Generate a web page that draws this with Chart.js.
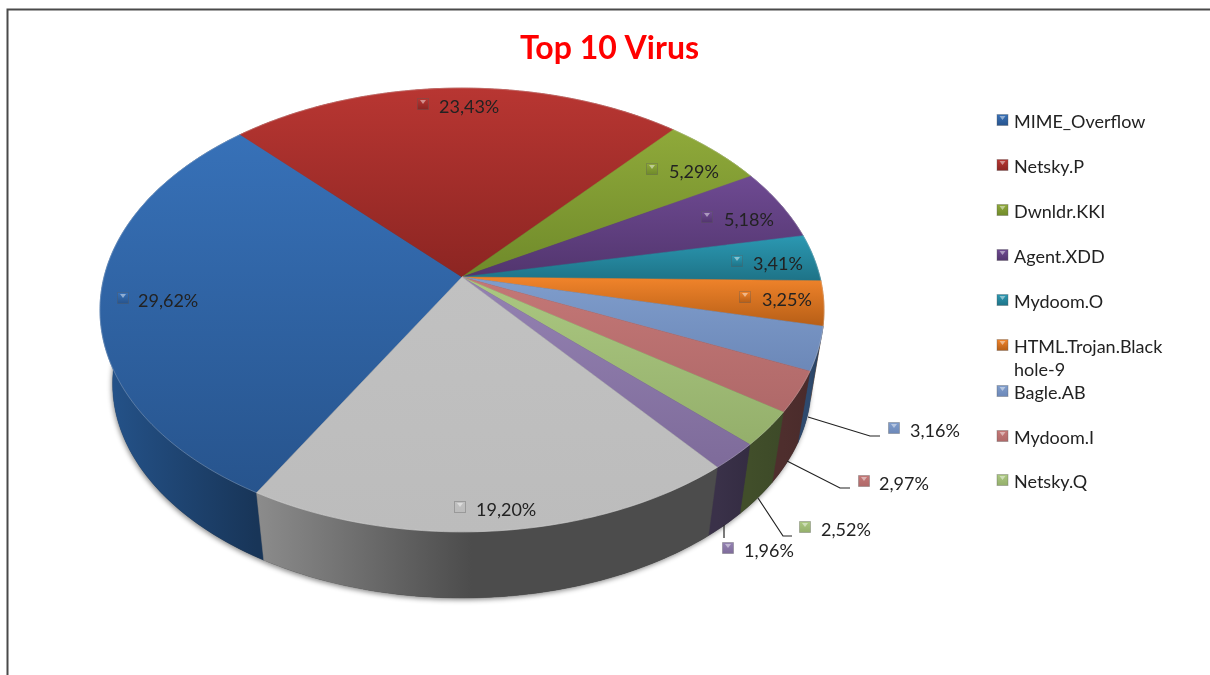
<!DOCTYPE html>
<html>
<head>
<meta charset="utf-8">
<title>Top 10 Virus</title>
<script src="https://cdn.jsdelivr.net/npm/chart.js@4"></script>
<style>
    html, body { margin: 0; padding: 0; background: #fff; overflow: hidden; }
    canvas { display: block; }
</style>
</head>
<body>
<canvas id="virusChart" width="1210" height="675"></canvas>
<script>
const categories = ['MIME_Overflow', 'Netsky.P', 'Dwnldr.KKI', 'Agent.XDD', 'Mydoom.O', 'HTML.Trojan.Blackhole-9', 'Bagle.AB', 'Mydoom.I', 'Netsky.Q', '(cut off)', '(cut off)'];
const shares = [29.62, 23.43, 5.29, 5.18, 3.41, 3.25, 3.16, 2.97, 2.52, 1.96, 19.20];
const shareLabels = ['29,62%', '23,43%', '5,29%', '5,18%', '3,41%', '3,25%', '3,16%', '2,97%', '2,52%', '1,96%', '19,20%'];

// legend lines as wrapped in the picture, the last two entries are cut off there
const legendLines = [['MIME_Overflow'], ['Netsky.P'], ['Dwnldr.KKI'], ['Agent.XDD'], ['Mydoom.O'], ['HTML.Trojan.Black', 'hole-9'], ['Bagle.AB'], ['Mydoom.I'], ['Netsky.Q']];
const legendRows = [121, 166, 211, 256, 301, 346, 392, 437, 481];

const topLight = ['#3771B8', '#B83632', '#8FA93A', '#6E4A92', '#2B98B2', '#F1842B', '#7F9DCC', '#C47776', '#ABC881', '#9482B2', '#C1C1C1'];
const topDark = ['#27548D', '#8C2522', '#6F8A2A', '#52356E', '#1E7387', '#B65E16', '#6C88B8', '#AF6969', '#94AF6B', '#7E6B9A', '#BCBCBC'];
const sideLight = ['#25548C', '#7A2320', '#5E7226', '#46305E', '#1A6274', '#A05210', '#2E4A6E', '#4E2E2D', '#414E2A', '#3A3149', '#8C8C8C'];
const sideDark = ['#183558', '#7A2320', '#5E7226', '#46305E', '#1A6274', '#A05210', '#253A56', '#4A2B2B', '#3D4A28', '#342C42', '#4C4C4C'];

// label key position and text start for each slice
const labelSpots = [[123, 298, 138], [423, 104, 439], [652, 169, 669], [707, 217, 724], [737, 261, 753], [745, 297, 762], [894, 428, 910], [864, 481, 879], [805, 527, 821], [728, 548, 744], [460, 507, 476]];
const leaderLines = [
    [[808, 417], [870, 436], [880, 436]],
    [[787, 461], [840, 488], [850, 488]],
    [[758, 498], [783, 536], [792, 536]],
    [[724, 525], [724, 538]]
];

const PIE = { cx: 462, cy: 277, rx: 358, ry: 217, tilt: 0.1486, bottomCy: 352, bottomScale: 0.965 };
const TEXT_FONT = '18px Lato, "Noto Sans", sans-serif';

// the pie is seen in perspective, so the centre sits above the middle of the ellipse
function project(angle, scale, centerY) {
    const u = Math.cos(angle);
    const v = Math.sin(angle);
    const d = 1 - PIE.tilt * v;
    return [PIE.cx + PIE.rx * scale * u / d, centerY + PIE.ry * scale * v / d];
}

function rimPoints(start, end, scale, centerY) {
    const steps = Math.max(4, Math.ceil((end - start) * 60));
    const pts = [];
    for (let i = 0; i <= steps; i++) {
        pts.push(project(start + (end - start) * i / steps, scale, centerY));
    }
    return pts;
}

function tracePath(ctx, pts) {
    ctx.beginPath();
    pts.forEach((p, i) => (i === 0 ? ctx.moveTo(p[0], p[1]) : ctx.lineTo(p[0], p[1])));
    ctx.closePath();
}

function bounds(pts) {
    const xs = pts.map(p => p[0]);
    const ys = pts.map(p => p[1]);
    return { minX: Math.min(...xs), maxX: Math.max(...xs), minY: Math.min(...ys), maxY: Math.max(...ys) };
}

function drawPie(chart) {
    const ctx = chart.ctx;
    const arcs = chart.getDatasetMeta(0).data;

    // soft shadow under the whole pie
    ctx.save();
    ctx.shadowColor = 'rgba(0, 0, 0, 0.45)';
    ctx.shadowBlur = 5;
    ctx.shadowOffsetX = -1;
    ctx.shadowOffsetY = 2;
    ctx.fillStyle = '#333';
    tracePath(ctx, rimPoints(0, Math.PI * 2, PIE.bottomScale, PIE.bottomCy));
    ctx.fill();
    ctx.restore();

    // outer wall
    arcs.forEach((arc, i) => {
        const top = rimPoints(arc.startAngle, arc.endAngle, 1, PIE.cy);
        const bottom = rimPoints(arc.startAngle, arc.endAngle, PIE.bottomScale, PIE.bottomCy).reverse();
        const box = bounds(top);
        const grad = ctx.createLinearGradient(box.minX, 0, i === 10 ? box.minX + 215 : box.maxX, 0);
        grad.addColorStop(0, sideLight[i]);
        grad.addColorStop(1, sideDark[i]);
        tracePath(ctx, top.concat(bottom));
        ctx.fillStyle = grad;
        ctx.fill();
        ctx.strokeStyle = grad;
        ctx.lineWidth = 0.5;
        ctx.stroke();
    });

    // top face
    arcs.forEach((arc, i) => {
        const rim = rimPoints(arc.startAngle, arc.endAngle, 1, PIE.cy);
        const box = bounds(rim.concat([[PIE.cx, PIE.cy]]));
        const grad = ctx.createLinearGradient(0, box.minY, 0, box.maxY);
        grad.addColorStop(0, topLight[i]);
        grad.addColorStop(1, topDark[i]);
        tracePath(ctx, [[PIE.cx, PIE.cy]].concat(rim));
        ctx.fillStyle = grad;
        ctx.fill();
        ctx.strokeStyle = grad;
        ctx.lineWidth = 0.5;
        ctx.stroke();

        // thin light bevel along the front rim
        ctx.save();
        ctx.beginPath();
        rim.forEach((p, j) => (j === 0 ? ctx.moveTo(p[0], p[1]) : ctx.lineTo(p[0], p[1])));
        ctx.strokeStyle = 'rgba(255, 255, 255, 0.22)';
        ctx.lineWidth = 1;
        ctx.stroke();
        ctx.restore();
    });
}

function drawKey(ctx, x, y, color, dark) {
    const s = 11;
    const grad = ctx.createLinearGradient(0, y - s / 2, 0, y + s / 2);
    grad.addColorStop(0, color);
    grad.addColorStop(1, dark);
    ctx.fillStyle = grad;
    ctx.fillRect(x - s / 2, y - s / 2, s, s);
    ctx.strokeStyle = 'rgba(90, 90, 90, 0.35)';
    ctx.lineWidth = 1;
    ctx.strokeRect(x - s / 2, y - s / 2, s, s);
    // little lighter wedge on top of the key
    ctx.fillStyle = 'rgba(255, 255, 255, 0.45)';
    ctx.beginPath();
    ctx.moveTo(x - 3, y - 4);
    ctx.lineTo(x + 3, y - 4);
    ctx.lineTo(x, y);
    ctx.closePath();
    ctx.fill();
}

const frameAndPie = {
    id: 'frameAndPie',
    beforeDraw(chart) {
        const ctx = chart.ctx;
        ctx.save();
        ctx.strokeStyle = '#4a4a4a';
        ctx.lineWidth = 2;
        ctx.beginPath();
        ctx.moveTo(1210, 9.5);
        ctx.lineTo(7.5, 9.5);
        ctx.lineTo(7.5, 675);
        ctx.stroke();
        ctx.restore();
    },
    beforeDatasetDraw(chart) {
        drawPie(chart);
        return false;
    },
    afterDatasetsDraw(chart) {
        const ctx = chart.ctx;
        ctx.save();
        ctx.strokeStyle = '#222';
        ctx.lineWidth = 1.2;
        leaderLines.forEach(line => {
            ctx.beginPath();
            line.forEach((p, i) => (i === 0 ? ctx.moveTo(p[0], p[1]) : ctx.lineTo(p[0], p[1])));
            ctx.stroke();
        });

        ctx.font = TEXT_FONT;
        ctx.textBaseline = 'middle';
        ctx.textAlign = 'left';
        shareLabels.forEach((label, i) => {
            const spot = labelSpots[i];
            drawKey(ctx, spot[0], spot[1], topLight[i], topDark[i]);
            ctx.fillStyle = '#222';
            ctx.fillText(label, spot[2], spot[1] + 3);
        });

        legendLines.forEach((lines, i) => {
            drawKey(ctx, 1002.5, legendRows[i] - 1, topLight[i], topDark[i]);
            ctx.fillStyle = '#222';
            lines.forEach((line, j) => ctx.fillText(line, 1014, legendRows[i] + 1 + j * 23));
        });
        ctx.restore();
    }
};

new Chart(document.getElementById('virusChart'), {
    type: 'pie',
    data: {
        labels: categories,
        datasets: [{ data: shares, backgroundColor: topLight, borderWidth: 0 }]
    },
    options: {
        responsive: false,
        animation: false,
        rotation: 210,
        layout: { padding: { left: 9 } },
        plugins: {
            legend: { display: false },
            tooltip: { enabled: false },
            title: {
                display: true,
                text: 'Top 10 Virus',
                color: '#FF0000',
                font: { family: 'Lato, "Noto Sans", sans-serif', size: 32, weight: 'bold' },
                padding: { top: 29, bottom: 10 }
            }
        }
    },
    plugins: [frameAndPie]
});
</script>
</body>
</html>
